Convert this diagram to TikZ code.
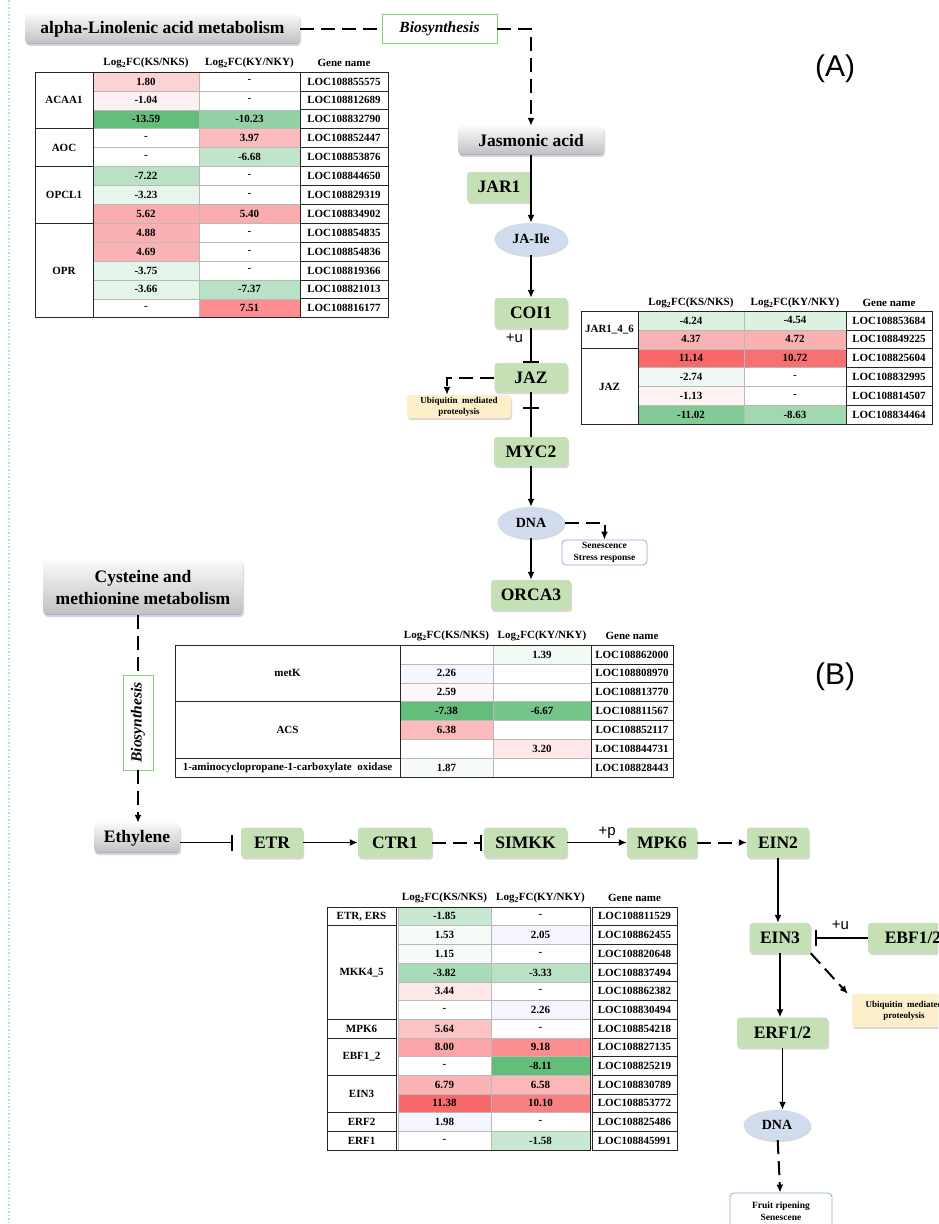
\documentclass[tikz,border=0pt]{standalone}
\usepackage{fontspec}
\setmainfont{Liberation Serif}
\setsansfont{Liberation Sans}
\usetikzlibrary{arrows.meta,shadows,shapes.geometric,calc}

\definecolor{up}{HTML}{F8696B}
\definecolor{dn}{HTML}{63BE7B}
\definecolor{genegreen}{HTML}{C5E0B4}
\definecolor{dnablue}{HTML}{D2DCEF}
\definecolor{ubqcream}{HTML}{FDEFC9}
\definecolor{biogreen}{HTML}{8DCB7C}
\definecolor{outblue}{HTML}{8DAED5}
\definecolor{edgecol}{HTML}{B0E2D4}
\definecolor{topline}{HTML}{9DB6D8}

\begin{document}
\begin{tikzpicture}[x=1pt,y=-1pt,
		lift/.style={drop shadow={opacity=0.3,shadow xshift=1pt,shadow yshift=-2pt}},
		gene/.style={lift,fill=genegreen,rounded corners=3pt,inner sep=0pt,minimum height=30pt,font=\fontsize{17.5}{20}\selectfont\bfseries},
		metab/.style={lift,rounded corners=4pt,top color=gray!4,bottom color=gray!50,inner sep=0pt,align=center,font=\fontsize{17.5}{22}\selectfont\bfseries,
			path picture={\draw[topline,line width=1.5pt] (path picture bounding box.south west) -- (path picture bounding box.south east);}},
		dna/.style={lift,ellipse,fill=dnablue,inner sep=0pt,font=\fontsize{14}{16}\selectfont\bfseries},
		bio/.style={draw=biogreen,line width=0.8pt,fill=white,inner sep=0pt,font=\fontsize{15.5}{18}\selectfont\bfseries\itshape},
		ubq/.style={lift,fill=ubqcream,rounded corners=3pt,inner sep=0pt,align=center,font=\fontsize{9}{11}\selectfont\bfseries},
		outbox/.style={draw=outblue,line width=0.8pt,fill=white,rounded corners=4pt,inner sep=0pt,align=center,font=\fontsize{9.5}{11.5}\selectfont\bfseries},
		solidln/.style={line width=1.6pt},
		dashln/.style={line width=2pt,dash pattern=on 14pt off 7pt},
		arrowed/.style={-{Latex[length=8pt,width=7pt]}},
		inhib/.style={-{Bar[width=16pt,line width=2pt]}},
		sansl/.style={font=\fontsize{15}{17}\sffamily},
		cell/.style={draw=gray!55,line width=0.5pt},
		gbox/.style={draw=black!85,line width=0.8pt},
		tabtxt/.style={inner sep=0pt,font=\fontsize{11}{13}\selectfont\bfseries}
	]
	\useasboundingbox (0,0) rectangle (938,1224);
	\clip (0,0) rectangle (938,1224);
	\fill[white] (0,0) rectangle (938,1224);
	\draw[edgecol,line width=1.5pt,dotted] (9,0) -- (9,1224);

	% (A) jasmonic acid
	\node[metab,minimum width=275pt,minimum height=30pt] (alpha) at (162.5,29) {alpha-Linolenic acid metabolism};
	\node[bio,minimum width=115pt,minimum height=29pt] (bioA) at (439.5,29) {Biosynthesis};
	\node[metab,minimum width=146pt,minimum height=29pt] (jas) at (531,140.5) {Jasmonic acid};
	\node[gene,minimum width=64pt] (jar1) at (499,187) {JAR1};
	\node[dna,minimum width=73pt,minimum height=32pt] (jaile) at (531,239) {JA-Ile};
	\node[gene,minimum width=73pt] (coi1) at (531,313) {COI1};
	\node[gene,minimum width=73pt,minimum height=29pt] (jaz) at (531,377.5) {JAZ};
	\node[ubq,minimum width=104pt,minimum height=23pt] (ubqA) at (459,406.5) {Ubiquitin\ \ mediated\\proteolysis};
	\node[gene,minimum width=74pt,minimum height=29pt] (myc2) at (531,451.5) {MYC2};
	\node[dna,minimum width=67pt,minimum height=31pt] (dnaA) at (531,522.5) {DNA};
	\node[outbox,minimum width=85pt,minimum height=25pt] (senes) at (604.5,552.5) {Senescence\\Stress response};
	\node[gene,minimum width=80pt] (orca3) at (531,595) {ORCA3};
	\node[font=\fontsize{30}{34}\sffamily] (labA) at (835,69) {(A)};

	\draw[dashln] (alpha) -- (bioA);
	\draw[dashln,arrowed] (bioA) -| (jas);
	\draw[solidln,arrowed] (jas) -- (jaile);
	\draw[solidln,arrowed] (jaile) -- (coi1);
	\draw[solidln,inhib] (coi1) -- node[left=4pt,pos=0.3,sansl] (ulabA) {+u} (jaz);
	\draw[solidln] (jaz) -- coordinate[pos=0.35] (jzbar) (myc2);
	\draw[line width=2pt] ([xshift=-8pt]jzbar) -- ([xshift=8pt]jzbar);
	\draw[dashln,arrowed] (jaz) -| ([xshift=-12pt]ubqA.north);
	\draw[solidln,arrowed] (myc2) -- (dnaA);
	\draw[dashln,arrowed] (dnaA) -| (senes);
	\draw[solidln,arrowed] (dnaA) -- (orca3);

	% table A1
	\node[tabtxt] (a1h1) at (146,63) {Log\textsubscript{2}FC(KS/NKS)};
	\node[tabtxt] (a1h2) at (249.5,63) {Log\textsubscript{2}FC(KY/NKY)};
	\node[tabtxt] (a1h3) at (344,63) {Gene name};
	\foreach \ks/\cks/\ky/\cky/\loc [count=\r] in {
		1.80/up!30/-/white/LOC108855575,
		-1.04/up!10/-/white/LOC108812689,
		-13.59/dn!100/-10.23/dn!70/LOC108832790,
		-/white/3.97/up!45/LOC108852447,
		-/white/-6.68/dn!40/LOC108853876,
		-7.22/dn!45/-/white/LOC108844650,
		-3.23/dn!15/-/white/LOC108829319,
		5.62/up!55/5.40/up!55/LOC108834902,
		4.88/up!52/-/white/LOC108854835,
		4.69/up!50/-/white/LOC108854836,
		-3.75/dn!17/-/white/LOC108819366,
		-3.66/dn!17/-7.37/dn!45/LOC108821013,
		-/white/7.51/up!75/LOC108816177}{
		\pgfmathsetmacro\yt{72+(\r-1)*18.9}
		\draw[cell,fill=\cks] (93,\yt) rectangle (199,{\yt+18.9});
		\draw[cell,fill=\cky] (199,\yt) rectangle (300,{\yt+18.9});
		\draw[gbox] (300,\yt) rectangle (388,{\yt+18.9});
		\node[tabtxt] (a1ks\r) at (146,{\yt+9.45}) {\ks};
		\node[tabtxt] (a1ky\r) at (249.5,{\yt+9.45}) {\ky};
		\node[tabtxt] (a1g\r) at (344,{\yt+9.45}) {\loc};
	}
	\foreach \lab/\ra/\rb in {ACAA1/1/3,AOC/4/5,OPCL1/6/8,OPR/9/13}{
		\draw[gbox] (35,{72+(\ra-1)*18.9}) rectangle (93,{72+\rb*18.9});
		\node[tabtxt] (a1l\ra) at (64,{72+(\ra+\rb-1)*9.45}) {\lab};
	}
	\draw[gbox] (35,72) rectangle (388,{72+13*18.9});

	% table A2
	\node[tabtxt] (a2h1) at (691,303) {Log\textsubscript{2}FC(KS/NKS)};
	\node[tabtxt] (a2h2) at (795,303) {Log\textsubscript{2}FC(KY/NKY)};
	\node[tabtxt] (a2h3) at (889,303) {Gene name};
	\foreach \ks/\cks/\ky/\cky/\loc [count=\r] in {
		-4.24/dn!22/-4.54/dn!22/LOC108853684,
		4.37/up!50/4.72/up!52/LOC108849225,
		11.14/up!100/10.72/up!95/LOC108825604,
		-2.74/dn!10/-/white/LOC108832995,
		-1.13/up!8/-/white/LOC108814507,
		-11.02/dn!80/-8.63/dn!60/LOC108834464}{
		\pgfmathsetmacro\yt{311+(\r-1)*18.9}
		\draw[cell,fill=\cks] (638,\yt) rectangle (744,{\yt+18.9});
		\draw[cell,fill=\cky] (744,\yt) rectangle (846,{\yt+18.9});
		\draw[gbox] (846,\yt) rectangle (932,{\yt+18.9});
		\node[tabtxt] (a2ks\r) at (691,{\yt+9.45}) {\ks};
		\node[tabtxt] (a2ky\r) at (795,{\yt+9.45}) {\ky};
		\node[tabtxt] (a2g\r) at (889,{\yt+9.45}) {\loc};
	}
	\foreach \lab/\ra/\rb in {JAR1\_4\_6/1/2,JAZ/3/6}{
		\draw[gbox] (581,{311+(\ra-1)*18.9}) rectangle (638,{311+\rb*18.9});
		\node[tabtxt] (a2l\ra) at (609.5,{311+(\ra+\rb-1)*9.45}) {\lab};
	}
	\draw[gbox] (581,311) rectangle (932,{311+6*18.9});

	% (B) ethylene
	\node[metab,minimum width=200pt,minimum height=55pt] (cys) at (143,587.5) {Cysteine and\\methionine metabolism};
	\node[bio,rotate=90,minimum width=95pt,minimum height=30pt] (bioB) at (138,722.5) {Biosynthesis};
	\node[metab,minimum width=86pt,minimum height=30pt] (eth) at (137,838) {Ethylene};
	\node[gene,minimum width=62pt] (etr) at (272,842.5) {ETR};
	\node[gene,minimum width=74pt] (ctr1) at (395,842.5) {CTR1};
	\node[gene,minimum width=83pt] (simkk) at (525.5,842.5) {SIMKK};
	\node[gene,minimum width=70pt] (mpk6) at (662,842.5) {MPK6};
	\node[gene,minimum width=62pt] (ein2) at (778,842.5) {EIN2};
	\node[gene,minimum width=61pt] (ein3) at (780,938) {EIN3};
	\node[gene,minimum width=90pt] (ebf) at (913,938) {EBF1/2};
	\node[ubq,minimum width=104pt,minimum height=33pt] (ubqB) at (904,1010.5) {Ubiquitin\ \ mediated\\proteolysis};
	\node[gene,minimum width=91pt] (erf) at (782.5,1032.5) {ERF1/2};
	\node[dna,minimum width=67pt,minimum height=30pt] (dnaB) at (777,1125) {DNA};
	\node[outbox,minimum width=102pt,minimum height=36pt] (fruit) at (781,1211) {Fruit ripening\\Senescene};
	\node[font=\fontsize{30}{34}\sffamily] (labB) at (835,677) {(B)};

	\draw[dashln] (cys.south -| bioB) -- (bioB);
	\draw[dashln,arrowed] (bioB) -- (bioB |- eth.north);
	\draw[solidln,inhib,shorten >=8pt] (eth.east |- etr) -- (etr);
	\draw[solidln,arrowed] (etr) -- (ctr1);
	\draw[dashln,inhib,shorten >=2pt] (ctr1) -- (simkk);
	\draw[solidln,arrowed] (simkk) -- node[above,pos=0.67,sansl] (plab) {+p} (mpk6);
	\draw[dashln,arrowed] (mpk6) -- (ein2);
	\draw[solidln,arrowed] (ein2) -- (ein2 |- ein3.north);
	\draw[solidln,inhib,shorten >=4pt] (ebf) -- node[above=4pt,pos=0.48,sansl] (ulabB) {+u} (ein3);
	\draw[dashln,arrowed] (ein3.south east) -- ([xshift=-4pt]ubqB.north west);
	\draw[solidln,arrowed] (ein3) -- (ein3 |- erf.north);
	\draw[solidln,arrowed] (erf) -- (erf |- dnaB.north);
	\draw[dashln,arrowed] (dnaB) -- (fruit);

	% table B1
	\node[tabtxt] (b1h1) at (446.5,636) {Log\textsubscript{2}FC(KS/NKS)};
	\node[tabtxt] (b1h2) at (542,636) {Log\textsubscript{2}FC(KY/NKY)};
	\node[tabtxt] (b1h3) at (632,636) {Gene name};
	\foreach \ks/\cks/\ky/\cky/\loc [count=\r] in {
		~/white/1.39/dn!8/LOC108862000,
		2.26/blue!3/~/white/LOC108808970,
		2.59/up!5/~/white/LOC108813770,
		-7.38/dn!100/-6.67/dn!88/LOC108811567,
		6.38/up!45/~/white/LOC108852117,
		~/white/3.20/up!15/LOC108844731,
		1.87/dn!6/~/white/LOC108828443}{
		\pgfmathsetmacro\yt{645+(\r-1)*18.9}
		\draw[cell,fill=\cks] (400,\yt) rectangle (493,{\yt+18.9});
		\draw[cell,fill=\cky] (493,\yt) rectangle (591,{\yt+18.9});
		\draw[gbox] (591,\yt) rectangle (673,{\yt+18.9});
		\node[tabtxt] (b1ks\r) at (446.5,{\yt+9.45}) {\ks};
		\node[tabtxt] (b1ky\r) at (542,{\yt+9.45}) {\ky};
		\node[tabtxt] (b1g\r) at (632,{\yt+9.45}) {\loc};
	}
	\foreach \lab/\ra/\rb in {metK/1/3,ACS/4/6,1-aminocyclopropane-1-carboxylate\ \ oxidase/7/7}{
		\draw[gbox] (175,{645+(\ra-1)*18.9}) rectangle (400,{645+\rb*18.9});
		\node[tabtxt] (b1l\ra) at (287.5,{645+(\ra+\rb-1)*9.45}) {\lab};
	}
	\draw[gbox] (175,645) rectangle (673,{645+7*18.9});

	% table B2
	\node[tabtxt] (b2h1) at (444.5,898) {Log\textsubscript{2}FC(KS/NKS)};
	\node[tabtxt] (b2h2) at (540.5,898) {Log\textsubscript{2}FC(KY/NKY)};
	\node[tabtxt] (b2h3) at (634.5,898) {Gene name};
	\foreach \ks/\cks/\ky/\cky/\loc [count=\r] in {
		-1.85/dn!35/-/white/LOC108811529,
		1.53/dn!6/2.05/blue!4/LOC108862455,
		1.15/dn!6/-/white/LOC108820648,
		-3.82/dn!55/-3.33/dn!45/LOC108837494,
		3.44/up!15/-/white/LOC108862382,
		-/white/2.26/blue!4/LOC108830494,
		5.64/up!40/-/white/LOC108854218,
		8.00/up!60/9.18/up!75/LOC108827135,
		-/white/-8.11/dn!100/LOC108825219,
		6.79/up!50/6.58/up!48/LOC108830789,
		11.38/up!100/10.10/up!85/LOC108853772,
		1.98/blue!4/-/white/LOC108825486,
		-/white/-1.58/dn!35/LOC108845991}{
		\pgfmathsetmacro\yt{907+(\r-1)*18.7}
		\draw[cell,fill=\cks] (398,\yt) rectangle (491,{\yt+18.7});
		\draw[cell,fill=\cky] (491,\yt) rectangle (590,{\yt+18.7});
		\draw[gbox] (592,\yt) rectangle (677,{\yt+18.7});
		\node[tabtxt] (b2ks\r) at (444.5,{\yt+9.35}) {\ks};
		\node[tabtxt] (b2ky\r) at (540.5,{\yt+9.35}) {\ky};
		\node[tabtxt] (b2g\r) at (634.5,{\yt+9.35}) {\loc};
	}
	\foreach \lab/\ra/\rb in {{ETR, ERS}/1/1,MKK4\_5/2/6,MPK6/7/7,EBF1\_2/8/9,EIN3/10/11,ERF2/12/12,ERF1/13/13}{
		\draw[gbox] (327,{907+(\ra-1)*18.7}) rectangle (396,{907+\rb*18.7});
		\node[tabtxt] (b2l\ra) at (361.5,{907+(\ra+\rb-1)*9.35}) {\lab};
	}
	\draw[gbox] (396,907) -- (396,{907+13*18.7}) -- (590,{907+13*18.7}) -- (590,907) -- cycle;
\end{tikzpicture}
\end{document}
